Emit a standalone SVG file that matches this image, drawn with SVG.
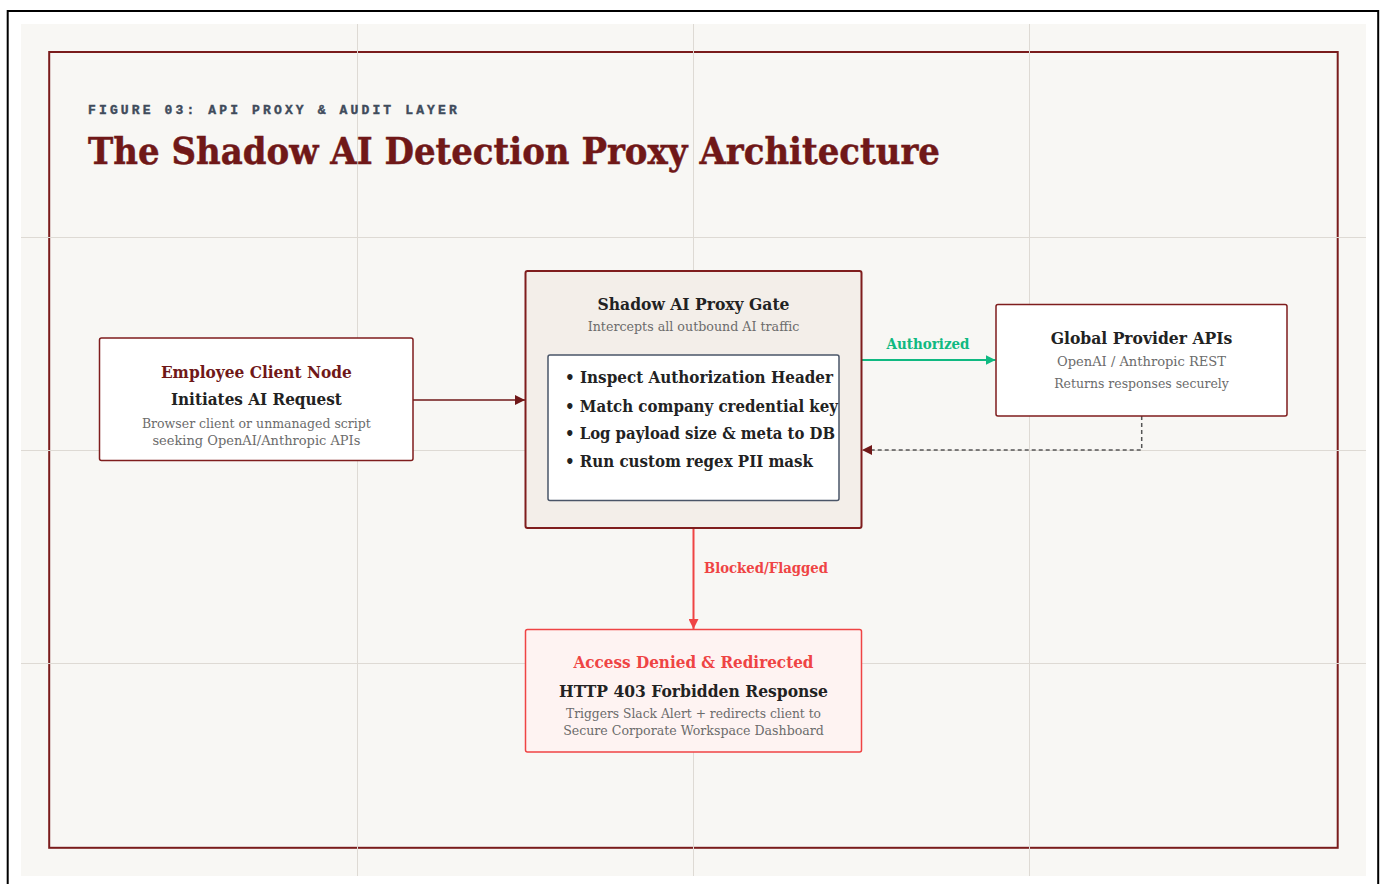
<svg xmlns="http://www.w3.org/2000/svg" width="1383" height="884" viewBox="0 0 1383 884">
  <defs>
    <style>
      .serif { font-family: "DejaVu Serif", "Liberation Serif", serif; }
      .b { font-weight: bold; }
      .mid { text-anchor: middle; }
      .dark { fill: #222222; }
      .gray { fill: #6b6b6b; }
      .maroon { fill: #701818; }
      .grid { stroke: #dedad4; stroke-width: 1; }
      .node { stroke: #7f1d1d; }
    </style>
    <marker id="arrMaroon" viewBox="0 0 10 10" refX="10" refY="5" markerWidth="10" markerHeight="10" markerUnits="userSpaceOnUse" orient="auto">
      <path d="M0,0 L10,5 L0,10 z" fill="#701818"/>
    </marker>
    <marker id="arrGreen" viewBox="0 0 10 10" refX="10" refY="5" markerWidth="10" markerHeight="10" markerUnits="userSpaceOnUse" orient="auto">
      <path d="M0,0 L10,5 L0,10 z" fill="#10b981"/>
    </marker>
    <marker id="arrRed" viewBox="0 0 10 10" refX="10" refY="5" markerWidth="10" markerHeight="10" markerUnits="userSpaceOnUse" orient="auto">
      <path d="M0,0 L10,5 L0,10 z" fill="#ef4444"/>
    </marker>
  </defs>

  <rect x="0" y="0" width="1383" height="884" fill="#ffffff"/>
  <rect x="7.7" y="11" width="1370.5" height="900" fill="none" stroke="#000000" stroke-width="2"/>
  <rect x="21" y="24" width="1345" height="852" fill="#f8f7f4"/>

  <rect x="49.2" y="52" width="1288.5" height="795.8" fill="none" stroke="#7a1c1c" stroke-width="2"/>

  <g id="grid">
    <line class="grid" x1="357.5" y1="24" x2="357.5" y2="876"/>
    <line class="grid" x1="693.5" y1="24" x2="693.5" y2="876"/>
    <line class="grid" x1="1029.5" y1="24" x2="1029.5" y2="876"/>
    <line class="grid" x1="21" y1="237.5" x2="1366" y2="237.5"/>
    <line class="grid" x1="21" y1="450.5" x2="1366" y2="450.5"/>
    <line class="grid" x1="21" y1="663.5" x2="1366" y2="663.5"/>
  </g>

  <g id="header">
    <text x="88" y="114" font-family="Liberation Mono, monospace" font-weight="bold" font-size="13" letter-spacing="3.2" fill="#3f4b5b" stroke="#3f4b5b" stroke-width="0.4" textLength="372">FIGURE 03: API PROXY &amp; AUDIT LAYER</text>
    <text x="88" y="164" class="serif b maroon" font-size="37.5" stroke="#701818" stroke-width="0.5" textLength="852" lengthAdjust="spacingAndGlyphs">The Shadow AI Detection Proxy Architecture</text>
  </g>

  <g id="connectors">
    <line x1="413" y1="400" x2="525" y2="400" stroke="#701818" stroke-width="1.5" marker-end="url(#arrMaroon)"/>
    <line x1="862" y1="360" x2="995.5" y2="360" stroke="#10b981" stroke-width="2" marker-end="url(#arrGreen)"/>
    <text x="928" y="348.5" class="serif b mid" font-size="14" fill="#10b981" textLength="83" lengthAdjust="spacingAndGlyphs">Authorized</text>
    <polyline points="1141.7,416 1141.7,450 862,450" fill="none" stroke="#555555" stroke-width="1.5" stroke-dasharray="4 3" marker-end="url(#arrMaroon)"/>
    <line x1="693.5" y1="529" x2="693.5" y2="629" stroke="#ef4444" stroke-width="2" marker-end="url(#arrRed)"/>
    <text x="704" y="572.5" class="serif b" font-size="14" fill="#ef4444" textLength="124" lengthAdjust="spacingAndGlyphs">Blocked/Flagged</text>
  </g>

  <g id="employee-client">
    <rect x="99.5" y="338" width="313.5" height="122.5" rx="2" fill="#ffffff" class="node" stroke-width="1.5"/>
    <text x="256.4" y="377.5" class="serif b mid maroon" font-size="16.5" textLength="191" lengthAdjust="spacingAndGlyphs">Employee Client Node</text>
    <text x="256.4" y="405" class="serif b mid dark" font-size="16.5" textLength="171" lengthAdjust="spacingAndGlyphs">Initiates AI Request</text>
    <text x="256.4" y="427.5" class="serif mid gray" font-size="13.5" textLength="229" lengthAdjust="spacingAndGlyphs">Browser client or unmanaged script</text>
    <text x="256.4" y="444.5" class="serif mid gray" font-size="13.5" textLength="208" lengthAdjust="spacingAndGlyphs">seeking OpenAI/Anthropic APIs</text>
  </g>

  <g id="proxy-gate">
    <rect x="525.5" y="271" width="336" height="257" rx="2" fill="#f3eee9" class="node" stroke-width="2"/>
    <text x="693.5" y="310" class="serif b mid dark" font-size="16.5" textLength="192" lengthAdjust="spacingAndGlyphs">Shadow AI Proxy Gate</text>
    <text x="693.5" y="331" class="serif mid gray" font-size="13.5" textLength="211.6" lengthAdjust="spacingAndGlyphs">Intercepts all outbound AI traffic</text>
    <rect x="548" y="355" width="291" height="145.5" rx="2" fill="#ffffff" stroke="#4a5568" stroke-width="1.5"/>
    <text x="565" y="383.3" class="serif b dark" font-size="17" textLength="268" lengthAdjust="spacingAndGlyphs">• Inspect Authorization Header</text>
    <text x="565" y="411.5" class="serif b dark" font-size="17" textLength="273" lengthAdjust="spacingAndGlyphs">• Match company credential key</text>
    <text x="565" y="439.3" class="serif b dark" font-size="17" textLength="270" lengthAdjust="spacingAndGlyphs">• Log payload size &amp; meta to DB</text>
    <text x="565" y="466.7" class="serif b dark" font-size="17" textLength="248" lengthAdjust="spacingAndGlyphs">• Run custom regex PII mask</text>
  </g>

  <g id="global-provider">
    <rect x="996" y="304.5" width="291" height="111.5" rx="2" fill="#ffffff" class="node" stroke-width="1.5"/>
    <text x="1141.5" y="344.3" class="serif b mid dark" font-size="16.5" textLength="181.7" lengthAdjust="spacingAndGlyphs">Global Provider APIs</text>
    <text x="1141.5" y="366" class="serif mid gray" font-size="13.5" textLength="169" lengthAdjust="spacingAndGlyphs">OpenAI / Anthropic REST</text>
    <text x="1141.5" y="387.7" class="serif mid gray" font-size="13.5" textLength="174.7" lengthAdjust="spacingAndGlyphs">Returns responses securely</text>
  </g>

  <g id="access-denied">
    <rect x="525.5" y="629.5" width="336" height="122.5" rx="2" fill="#fef3f2" stroke="#ef4444" stroke-width="1.5"/>
    <text x="693.5" y="668.3" class="serif b mid" font-size="16.5" fill="#ef4444" textLength="240" lengthAdjust="spacingAndGlyphs">Access Denied &amp; Redirected</text>
    <text x="693.5" y="696.7" class="serif b mid dark" font-size="16.5" textLength="269" lengthAdjust="spacingAndGlyphs">HTTP 403 Forbidden Response</text>
    <text x="693.5" y="718.3" class="serif mid gray" font-size="13.5" textLength="255" lengthAdjust="spacingAndGlyphs">Triggers Slack Alert + redirects client to</text>
    <text x="693.5" y="735" class="serif mid gray" font-size="13.5" textLength="260.7" lengthAdjust="spacingAndGlyphs">Secure Corporate Workspace Dashboard</text>
  </g>
</svg>
